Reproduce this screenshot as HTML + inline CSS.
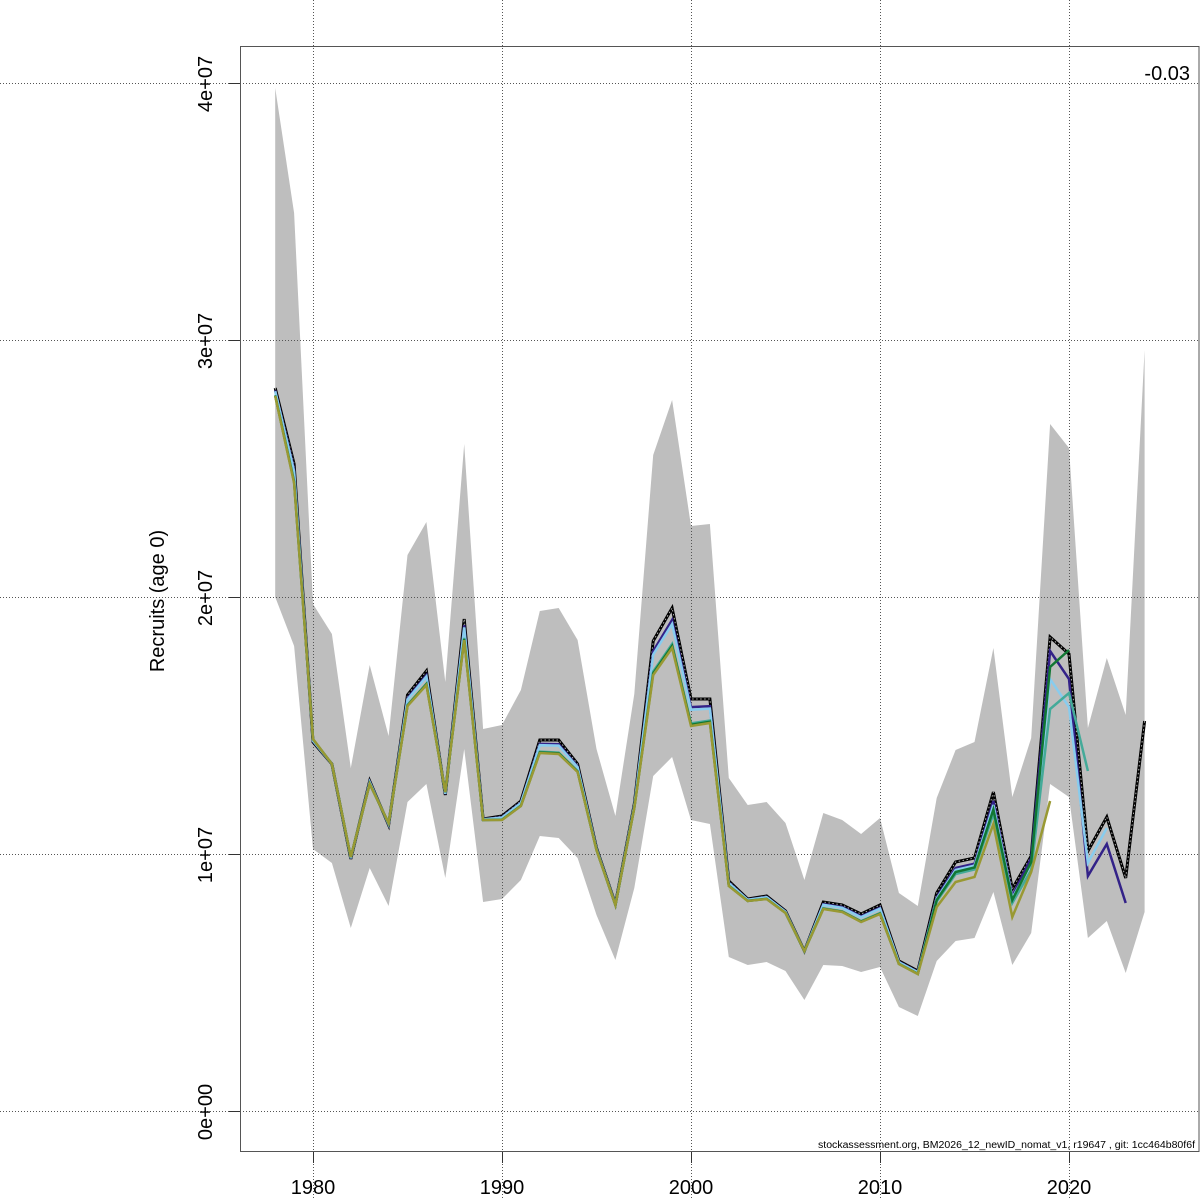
<!DOCTYPE html>
<html>
<head>
<meta charset="utf-8">
<style>
html,body{margin:0;padding:0;background:#fff;}
svg{display:block;}
text{font-family:"Liberation Sans",Arial,sans-serif;fill:#000;}
</style>
</head>
<body>
<svg width="1200" height="1200" viewBox="0 0 1200 1200" xmlns="http://www.w3.org/2000/svg">
<rect x="0" y="0" width="1200" height="1200" fill="#fff"/>

<!-- confidence band -->
<polygon fill="#bebebe" stroke="none" points="275.2,88 294.1,213 313,604 331.9,634 350.8,768 369.7,665 388.6,736 407.5,555 426.4,522 445.3,682 464.2,444 483.1,729 502,725 520.9,690 539.8,611 558.7,608 577.6,640 596.5,749 615.4,816 634.3,694 653.2,455 672.1,400 691,526 709.9,524 728.8,778 747.7,805 766.6,802 785.5,823 804.4,880 823.3,813 842.2,820 861.1,834 880,818 898.9,893 917.8,906 936.7,798 955.6,750 974.5,742 993.4,648 1012.3,797 1031.2,738 1050.1,424 1069,448 1087.9,728 1106.8,658 1125.7,715 1144.6,350 1144.6,912 1125.7,973 1106.8,921 1087.9,938 1069,797 1050.1,784 1031.2,933 1012.3,965 993.4,892 974.5,938 955.6,941 936.7,961 917.8,1016 898.9,1007 880,967 861.1,972 842.2,966 823.3,965 804.4,1000 785.5,971 766.6,962 747.7,965 728.8,957 709.9,824 691,820 672.1,757 653.2,776 634.3,888 615.4,960 596.5,915 577.6,858 558.7,838 539.8,836 520.9,880 502,899 483.1,902 464.2,749 445.3,878 426.4,784 407.5,802 388.6,906 369.7,868 350.8,928 331.9,863 313,849 294.1,646 275.2,597"/>

<!-- grid -->
<g stroke="#555" stroke-width="1" stroke-dasharray="1,2" fill="none">
<line x1="0" y1="83.5" x2="1200" y2="83.5"/>
<line x1="0" y1="340.5" x2="1200" y2="340.5"/>
<line x1="0" y1="597.5" x2="1200" y2="597.5"/>
<line x1="0" y1="854.5" x2="1200" y2="854.5"/>
<line x1="0" y1="1111.5" x2="1200" y2="1111.5"/>
<line x1="313.5" y1="0" x2="313.5" y2="1200"/>
<line x1="502.5" y1="0" x2="502.5" y2="1200"/>
<line x1="691.5" y1="0" x2="691.5" y2="1200"/>
<line x1="880.5" y1="0" x2="880.5" y2="1200"/>
<line x1="1069.5" y1="0" x2="1069.5" y2="1200"/>
</g>

<!-- main line -->
<polyline fill="none" stroke="#000" stroke-width="3" stroke-linejoin="miter" points="275.2,388 294.1,464 313,742 331.9,764 350.8,859 369.7,781 388.6,825 407.5,695 426.4,671 445.3,795 464.2,619 483.1,819 502,816 520.9,801 539.8,740 558.7,740 577.6,764 596.5,848 615.4,904 634.3,804 653.2,641 672.1,608 691,699 709.9,699 728.8,881 747.7,899 766.6,896 785.5,911 804.4,951 823.3,902 842.2,905 861.1,914 880,905 898.9,961 917.8,971 936.7,893 955.6,862 974.5,858 993.4,792 1012.3,889 1031.2,856 1050.1,637 1069,654 1087.9,851 1106.8,817 1125.7,878 1144.6,721"/>
<polyline fill="none" stroke="#b0b0b0" stroke-width="1" stroke-dasharray="1.5,2.5" points="275.2,388 294.1,464 313,742 331.9,764 350.8,859 369.7,781 388.6,825 407.5,695 426.4,671 445.3,795 464.2,619 483.1,819 502,816 520.9,801 539.8,740 558.7,740 577.6,764 596.5,848 615.4,904 634.3,804 653.2,641 672.1,608 691,699 709.9,699 728.8,881 747.7,899 766.6,896 785.5,911 804.4,951 823.3,902 842.2,905 861.1,914 880,905 898.9,961 917.8,971 936.7,893 955.6,862 974.5,858 993.4,792 1012.3,889 1031.2,856 1050.1,637 1069,654 1087.9,851 1106.8,817 1125.7,878 1144.6,721"/>

<!-- retro lines -->
<polyline fill="none" stroke="#332288" stroke-width="2.5" points="275.2,390.4 294.1,469.7 313,741.1 331.9,764 350.8,858.4 369.7,781.9 388.6,824.4 407.5,698.3 426.4,675.2 445.3,794.1 464.2,625.3 483.1,819.3 502,817.2 520.9,802.5 539.8,743.9 558.7,744.2 577.6,766.4 596.5,848.6 615.4,904.3 634.3,805.2 653.2,651.2 672.1,620 691,707.1 709.9,706.2 728.8,882.5 747.7,899.6 766.6,896.9 785.5,911.6 804.4,951 823.3,904.1 842.2,907.1 861.1,916.4 880,907.7 898.9,961.9 917.8,971.9 936.7,897.2 955.6,868 974.5,863.7 993.4,801 1012.3,896 1031.2,858 1050.1,651 1069,679 1087.9,876 1106.8,844 1125.7,903"/>
<polyline fill="none" stroke="#88CCEE" stroke-width="2.5" points="275.2,391.2 294.1,471.6 313,740.8 331.9,764 350.8,858.2 369.7,782.2 388.6,824.2 407.5,699.4 426.4,676.6 445.3,793.8 464.2,627.4 483.1,819.4 502,817.6 520.9,803 539.8,745.2 558.7,745.6 577.6,767.2 596.5,848.8 615.4,904.4 634.3,805.6 653.2,654.6 672.1,624 691,709.8 709.9,708.6 728.8,883 747.7,899.8 766.6,897.2 785.5,911.8 804.4,951 823.3,904.8 842.2,907.8 861.1,917.2 880,908.6 898.9,962.2 917.8,972.2 936.7,898.6 955.6,870 974.5,865.6 993.4,805 1012.3,898 1031.2,864 1050.1,679 1069,707 1087.9,863 1106.8,828"/>
<polyline fill="none" stroke="#44AA99" stroke-width="2.5" points="275.2,395.2 294.1,481.1 313,739.3 331.9,764 350.8,857.2 369.7,783.7 388.6,823.2 407.5,704.9 426.4,683.6 445.3,792.3 464.2,637.9 483.1,819.9 502,819.6 520.9,805.5 539.8,751.7 558.7,752.6 577.6,771.2 596.5,849.8 615.4,904.9 634.3,807.6 653.2,671.6 672.1,644 691,723.3 709.9,720.6 728.8,885.5 747.7,900.8 766.6,898.7 785.5,912.8 804.4,951 823.3,908.3 842.2,911.3 861.1,921.2 880,913.1 898.9,963.7 917.8,973.7 936.7,901.4 955.6,874 974.5,869.4 993.4,813.7 1012.3,903 1031.2,870 1050.1,709 1069,693 1087.9,771"/>
<polyline fill="none" stroke="#117733" stroke-width="2.5" points="275.2,395.6 294.1,482 313,739.2 331.9,764 350.8,857.1 369.7,783.9 388.6,823.1 407.5,705.5 426.4,684.3 445.3,792.2 464.2,639 483.1,820 502,819.8 520.9,805.8 539.8,752.4 558.7,753.3 577.6,771.6 596.5,849.9 615.4,905 634.3,807.8 653.2,673.3 672.1,646 691,724.7 709.9,721.8 728.8,885.8 747.7,900.9 766.6,898.9 785.5,912.9 804.4,951 823.3,908.7 842.2,911.7 861.1,921.6 880,913.6 898.9,963.9 917.8,973.9 936.7,900 955.6,872 974.5,867.5 993.4,809.5 1012.3,900 1031.2,862 1050.1,667 1069,650"/>
<polyline fill="none" stroke="#999933" stroke-width="2.5" points="275.2,396 294.1,483 313,739 331.9,764 350.8,857 369.7,784 388.6,823 407.5,706 426.4,685 445.3,792 464.2,640 483.1,820 502,820 520.9,806 539.8,753 558.7,754 577.6,772 596.5,850 615.4,905 634.3,808 653.2,675 672.1,648 691,726 709.9,723 728.8,886 747.7,901 766.6,899 785.5,913 804.4,951 823.3,909 842.2,912 861.1,922 880,914 898.9,964 917.8,974 936.7,907 955.6,882 974.5,877 993.4,824 1012.3,917 1031.2,872 1050.1,801"/>

<!-- box -->
<rect x="240.5" y="46.5" width="958.5" height="1105" fill="none" stroke="#555" stroke-width="1"/>

<!-- ticks -->
<g stroke="#333" stroke-width="1">
<line x1="229" y1="83.5" x2="240" y2="83.5"/>
<line x1="229" y1="340.5" x2="240" y2="340.5"/>
<line x1="229" y1="597.5" x2="240" y2="597.5"/>
<line x1="229" y1="854.5" x2="240" y2="854.5"/>
<line x1="229" y1="1111.5" x2="240" y2="1111.5"/>
<line x1="313.5" y1="1152" x2="313.5" y2="1163"/>
<line x1="502.5" y1="1152" x2="502.5" y2="1163"/>
<line x1="691.5" y1="1152" x2="691.5" y2="1163"/>
<line x1="880.5" y1="1152" x2="880.5" y2="1163"/>
<line x1="1069.5" y1="1152" x2="1069.5" y2="1163"/>
</g>

<!-- y tick labels -->
<g font-size="20" text-anchor="middle">
<text transform="translate(212,84) rotate(-90)">4e+07</text>
<text transform="translate(212,341) rotate(-90)">3e+07</text>
<text transform="translate(212,598) rotate(-90)">2e+07</text>
<text transform="translate(212,855) rotate(-90)">1e+07</text>
<text transform="translate(212,1112) rotate(-90)">0e+00</text>
</g>

<!-- x tick labels -->
<g font-size="20" text-anchor="middle">
<text x="313" y="1194">1980</text>
<text x="502" y="1194">1990</text>
<text x="691" y="1194">2000</text>
<text x="880" y="1194">2010</text>
<text x="1069" y="1194">2020</text>
</g>

<!-- axis title -->
<text transform="translate(164,601) rotate(-90)" font-size="20" text-anchor="middle">Recruits (age 0)</text>

<!-- annotations -->
<text x="1190" y="80" font-size="20" text-anchor="end">-0.03</text>
<text x="1195" y="1148" font-size="10" text-anchor="end" textLength="377" lengthAdjust="spacingAndGlyphs">stockassessment.org, BM2026_12_newID_nomat_v1, r19647 , git: 1cc464b80f6f</text>
</svg>
</body>
</html>
